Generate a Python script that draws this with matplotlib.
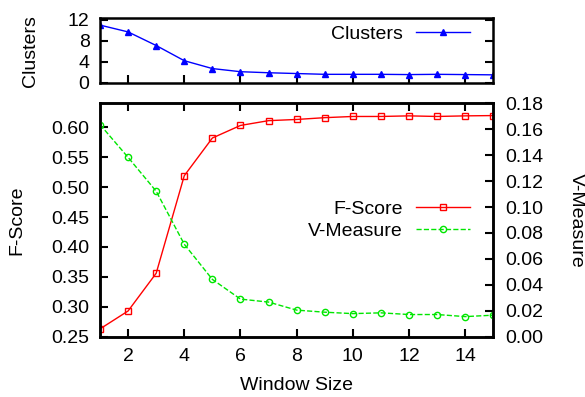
import numpy as np
import matplotlib
matplotlib.use("Agg")
import matplotlib.pyplot as plt

plt.rcParams['font.family'] = ['Liberation Sans', 'DejaVu Sans']
plt.rcParams['font.size'] = 14

window = [1, 2, 3, 4, 5, 6, 7, 8, 9, 10, 11, 12, 13, 14, 15]
clusters = [11.0, 9.7, 7.1, 4.2, 2.7, 2.1, 1.9, 1.75, 1.6, 1.6, 1.6, 1.55, 1.6, 1.55, 1.5]
fscore = [0.263, 0.293, 0.356, 0.519, 0.582, 0.603, 0.611, 0.613, 0.616, 0.618,
          0.618, 0.619, 0.618, 0.619, 0.6195]
vmeasure = [0.1636, 0.1383, 0.1122, 0.0713, 0.0442, 0.029, 0.0267, 0.0205, 0.0189,
            0.0178, 0.0184, 0.0171, 0.0171, 0.0155, 0.0166]
xticks = [2, 4, 6, 8, 10, 12, 14]

red = '#ff0000'
green = '#00e600'
blue = '#0000ff'
W, H = 585, 397


def style_frame(ax):
    for sp in ax.spines.values():
        sp.set_linewidth(1.8)
    ax.tick_params(direction='in', length=5.5, width=1.5, pad=7.5)


def legend_kw():
    return dict(frameon=False, markerfirst=False, handlelength=2.8,
                handletextpad=0.65, labelspacing=0.2, borderaxespad=0, borderpad=0)


fig = plt.figure(figsize=(W / 100, H / 100), dpi=100)

# top panel: clusters
ax_top = fig.add_axes([100 / W, 1 - 82.7 / H, 393.3 / W, 64.4 / H])
ax_top.plot(window, clusters, color=blue, lw=1, marker='^', ms=4.5, label='Clusters')
ax_top.set_xlim(1, 15)
ax_top.set_ylim(0, 12.3)
ax_top.set_yticks([0, 4, 8, 12])
ax_top.set_xticks(xticks)
ax_top.set_xticklabels([])
style_frame(ax_top)
ax_top.tick_params(axis='y', right=True)
ax_top.legend(loc='center right', bbox_to_anchor=(0.941, 0.756), **legend_kw())
fig.text(30 / W, 1 - 51 / H, 'Clusters', rotation=90, ha='center', va='center')

# main panel: F-Score and V-Measure
ax = fig.add_axes([100 / W, 1 - 336.7 / H, 393.3 / W, 233.4 / H])
ax2 = ax.twinx()
l1, = ax.plot(window, fscore, color=red, lw=1, marker='s', ms=4.5, mfc='none',
              mew=1, label='F-Score')
l2, = ax2.plot(window, vmeasure, color=green, lw=1, ls='--', marker='o', ms=4.5,
               mfc='none', mew=1, label='V-Measure')
ax.set_xlim(1, 15)
ax.set_ylim(0.25, 0.64)
ax.set_yticks(np.arange(0.25, 0.61, 0.05))
ax.yaxis.set_major_formatter(matplotlib.ticker.FormatStrFormatter('%.2f'))
ax2.set_ylim(0, 0.18)
ax2.set_yticks(np.arange(0, 0.181, 0.02))
ax2.yaxis.set_major_formatter(matplotlib.ticker.FormatStrFormatter('%.2f'))
ax.set_xticks(xticks)
style_frame(ax)
style_frame(ax2)
ax2.tick_params(axis='y', pad=8.5)
ax.tick_params(axis='x', top=True, pad=8)
ax.legend([l1, l2], ['F-Score', 'V-Measure'], loc='center right',
          bbox_to_anchor=(0.941, 0.5), **legend_kw())

fig.text(17.3 / W, 1 - 220 / H, 'F-Score', rotation=90, ha='center', va='center')
fig.text(576.7 / W, 1 - 220 / H, 'V-Measure', rotation=270, ha='center', va='center')
fig.text(296.7 / W, 1 - 386 / H, 'Window Size', ha='center', va='center')

fig.savefig('out.png', dpi=100)
